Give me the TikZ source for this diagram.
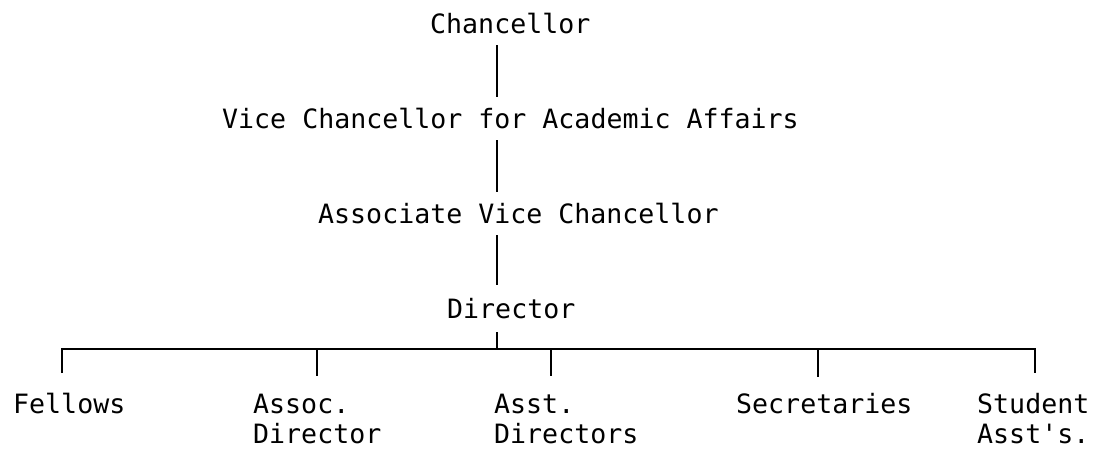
\documentclass[tikz,border=0pt]{standalone}
\usepackage{fontspec}
\setmonofont{DejaVu Sans Mono}
\usetikzlibrary{calc}
\begin{document}
\begin{tikzpicture}[x=1pt,y=-1pt,
  lbl/.style={anchor=base west,inner sep=0pt,
    font=\fontsize{26.6}{33}\selectfont\ttfamily},
  link/.style={line width=2.7pt}]
\useasboundingbox (0,0) rectangle (1095,448);

% vertical chain of offices
\node[lbl] (chanc) at (430,33)  {Chancellor};
\node[lbl] (vcaa)  at (222,128) {Vice Chancellor for Academic Affairs};
\node[lbl] (avc)   at (318,223) {Associate Vice Chancellor};
\node[lbl] (dir)   at (447,318) {Director};
\coordinate (spine) at (497,0);

\draw[link] ($(chanc.base -| spine)+(0,12)$) -- ($(vcaa.base -| spine)+(0,-31)$);
\draw[link] ($(vcaa.base -| spine)+(0,12)$)  -- ($(avc.base -| spine)+(0,-31)$);
\draw[link] ($(avc.base -| spine)+(0,12)$)   -- ($(dir.base -| spine)+(0,-33)$);

% staff reporting to the director
\node[lbl] (fel)    at (13,413)  {Fellows};
\node[lbl] (assoc)  at (253,413) {Assoc.};
\node[lbl] (assoc2) at (253,443) {Director};
\node[lbl] (asst)   at (494,413) {Asst.};
\node[lbl] (asst2)  at (494,443) {Directors};
\node[lbl] (sec)    at (736,413) {Secretaries};
\node[lbl] (stu)    at (977,413) {Student};
\node[lbl] (stu2)   at (977,443) {Asst's.};

\coordinate (b-fel)   at (62,349);
\coordinate (b-assoc) at (317,349);
\coordinate (b-dir)   at (497,349);
\coordinate (b-asst)  at (551,349);
\coordinate (b-sec)   at (818,349);
\coordinate (b-stu)   at (1035,349);

\draw[link] ($(dir.base -| spine)+(0,14)$) -- (b-dir);
\draw[link,line join=miter] ($(fel.base -| b-fel)+(0,-40)$) -- (b-fel) -- (b-stu)
  -- ($(stu.base -| b-stu)+(0,-40)$);
\draw[link] (b-assoc) -- ($(assoc.base -| b-assoc)+(0,-37)$);
\draw[link] (b-asst)  -- ($(asst.base -| b-asst)+(0,-37)$);
\draw[link] (b-sec)   -- ($(sec.base -| b-sec)+(0,-36)$);
\end{tikzpicture}
\end{document}
